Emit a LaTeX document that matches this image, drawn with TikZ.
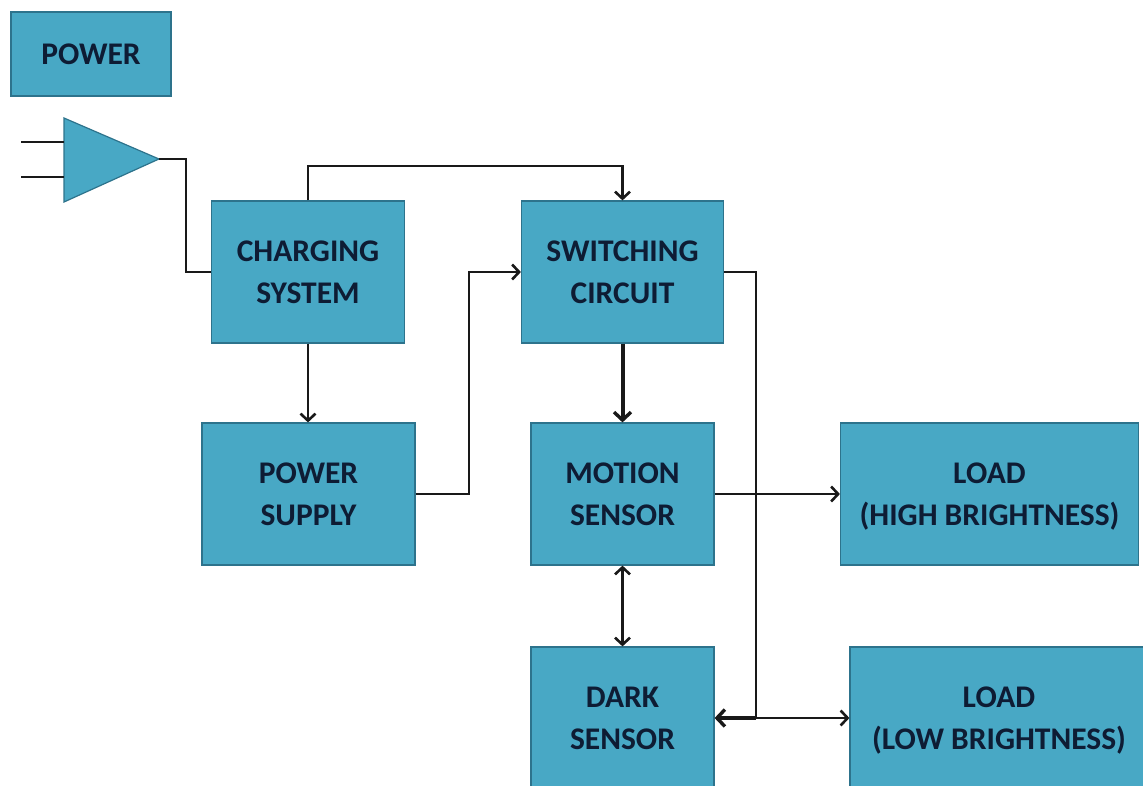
\documentclass[tikz,border=0pt]{standalone}
\usepackage{fontspec}
\setmainfont{Carlito}
\usetikzlibrary{arrows.meta}
\definecolor{boxblue}{RGB}{72,168,197}
\definecolor{boxedge}{RGB}{45,115,140}
\definecolor{boxtext}{RGB}{14,28,52}
\tikzset{
	blockbox/.style={draw=boxedge, line width=1.2pt, fill=boxblue, minimum width=#1, align=center, inner sep=0pt, font=\fontsize{31.5}{42}\selectfont\bfseries, text=boxtext},
	wire/.style={black!90, line width=2.9pt},
	link/.style={wire, -{Straight Barb[length=7pt,width=15pt,line width=2.6pt]}},
	heavylink/.style={wire, line width=4pt, -{Straight Barb[length=8pt,width=17pt,line width=3.4pt]}},
	twolink/.style={wire, {Straight Barb[length=7pt,width=15pt,line width=2.6pt]}-{Straight Barb[length=7pt,width=15pt,line width=2.6pt]}},
}
\begin{document}
\begin{tikzpicture}[x=1pt,y=-1pt]

\useasboundingbox (0,0) rectangle (1143,785);

\node[blockbox=160pt, minimum height=84pt] (power) at (91,54) {POWER};
\node[blockbox=193pt, minimum height=142pt] (charging) at (308,272) {CHARGING\\SYSTEM};
\node[blockbox=202pt, minimum height=142pt] (switching) at (622.5,272) {SWITCHING\\CIRCUIT};
\node[blockbox=213pt, minimum height=142pt] (supply) at (308.5,494) {POWER\\SUPPLY};
\node[blockbox=183pt, minimum height=142pt] (motion) at (622.5,494) {MOTION\\SENSOR};
\node[blockbox=298pt, minimum height=142pt] (high) at (989.5,494) {LOAD\\\smash{(HIGH BRIGHTNESS)}};
\node[blockbox=183pt, minimum height=142pt] (dark) at (622.5,718) {DARK\\SENSOR};
\node[blockbox=298pt, minimum height=142pt] (low) at (999,718) {LOAD\\\smash{(LOW BRIGHTNESS)}};

\draw[draw=boxedge, line width=1.2pt, fill=boxblue] (64,118) -- (159,159) -- (64,202) -- cycle;
\coordinate (plugtip) at (159,159);
\coordinate (pina) at (64,142);
\coordinate (pinb) at (64,177);
\coordinate (pinaend) at (21,142);
\coordinate (pinbend) at (21,177);
\coordinate (junction) at (756,718);

\draw[wire] (pinaend) -- (pina);
\draw[wire] (pinbend) -- (pinb);
\draw[wire] (plugtip) -- (186,159) -- (186,272) -- (charging.west);
\draw[link] (charging.north) -- (308,166) -- (622.5,166) -- (switching.north);
\draw[link] (charging.south) -- (charging.south |- supply.north);
\draw[link] (supply.east) -- (469,494) -- (469,272) -- (switching.west);
\draw[heavylink] (switching.south) -- (motion.north);
\draw[link] (motion.east) -- (high.west);
\draw[twolink] (motion.south) -- (dark.north);
\draw[wire] (switching.east) -- (756,272) -- (junction);
\draw[heavylink] (junction) -- (dark.east);
\draw[link] (junction) -- (low.west);

\end{tikzpicture}
\end{document}
